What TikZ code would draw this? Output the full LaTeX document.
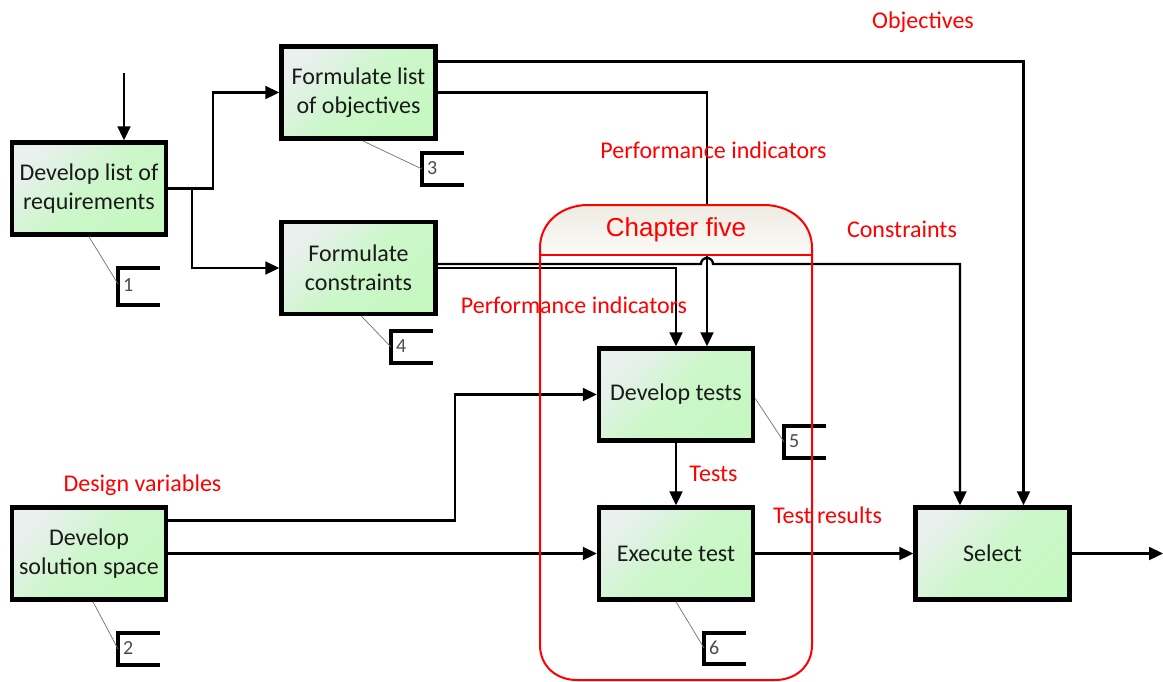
\documentclass[tikz,border=0pt]{standalone}
\usepackage{fontspec}
\setmainfont{Carlito}
\newfontfamily\headfont{Liberation Sans}
\usetikzlibrary{arrows.meta}

\definecolor{boxlight}{HTML}{E9F0EE}
\definecolor{boxgreen}{HTML}{C6F8C2}
\definecolor{headtop}{HTML}{EEEBE2}
\definecolor{headbot}{HTML}{FBFBF8}
\definecolor{boxtext}{HTML}{1A1A1A}
\definecolor{tagtext}{HTML}{4A4A4A}
\definecolor{leadgray}{HTML}{707070}

\tikzset{
  stagebox/.style={draw=black, line width=4.5pt, top color=boxlight, bottom color=boxgreen,
    middle color=boxgreen!82!boxlight, shading angle=45,
    minimum width=154pt, minimum height=92pt, align=center,
    text=boxtext, font=\fontsize{24}{29}\selectfont, inner sep=2pt},
  flow/.style={draw=black, line width=2.3pt, -{Triangle[length=14pt,width=13pt]}},
  tagline/.style={draw=black, line width=4.5pt},
  tagnum/.style={text=tagtext, font=\fontsize{20}{20}\selectfont, inner sep=1pt, anchor=west},
  leader/.style={draw=leadgray, line width=0.7pt},
  redlabel/.style={text=red, font=\fontsize{24}{24}\selectfont, inner sep=0pt},
  chapline/.style={draw=red, line width=2pt}
}

% bracket with a number: #1 name, #2 left x, #3 top y, #4 height, #5 number
\newcommand\tagmark[5]{%
  \draw[tagline] (#2+42,#3) -- (#2,#3) -- (#2,#3+#4) -- (#2+42,#3+#4);
  \node[tagnum] (#1) at (#2+4,#3+#4/2-1) {#5};
}

\begin{document}
\begin{tikzpicture}[x=1pt,y=-1pt]
\useasboundingbox (0,0) rectangle (1163,681);

% activity boxes
\node[stagebox] (req) at (89,188.5) {Develop list of\\requirements};
\node[stagebox] (obj) at (358.5,92.5) {Formulate list\\of objectives};
\node[stagebox] (con) at (358.5,268) {Formulate\\constraints};
\node[stagebox] (sol) at (89,553.5) {Develop\\solution space};
\node[stagebox] (dev) at (676,394.5) {Develop tests};
\node[stagebox] (exe) at (676,553.5) {Execute test};
\node[stagebox] (sel) at (992.5,553.5) {Select};

% input and output ends
\coordinate (in) at (124,73);
\coordinate (out) at (1163,553.5);

% connectors
\draw[flow] (in) -- (in |- req.north);
\draw[flow] (req.east) -- (213,188.5) |- (obj.west);
\draw[flow] (192,188.5) |- (con.west);
\draw[flow] ([yshift=31pt]obj.east) -| ([xshift=31pt]sel.north);
\draw[flow] (obj.east) -| ([xshift=31pt]dev.north);
\draw[flow] ([yshift=4pt]con.east) -- (701,264) arc[start angle=180,end angle=360,radius=6]
            -- (960,264) -- ([xshift=-32.5pt]sel.north);
\draw[flow] (con.east) -| (dev.north);
\draw[flow] ([yshift=33pt]sol.east) -- (455,520.5) |- (dev.west);
\draw[flow] (sol.east) -- (exe.west);
\draw[flow] (dev.south) -- (exe.north);
\draw[flow] (exe.east) -- (sel.west);
\draw[flow] (sel.east) -- (out);

% numbered brackets and their leaders
\tagmark{t1}{118}{268}{37}{1}
\tagmark{t3}{422}{153}{32}{3}
\tagmark{t4}{391}{331}{32}{4}
\tagmark{t5}{784}{426}{32}{5}
\tagmark{t6}{704}{633}{31}{6}
\tagmark{t2}{118}{633}{32}{2}
\draw[leader] (req.south) -- (118,284);
\draw[leader] ([xshift=4pt]obj.south) -- (422,169);
\draw[leader] ([xshift=3pt]con.south) -- (391,347);
\draw[leader] ([yshift=-4pt]dev.east) -- (784,442);
\draw[leader] (exe.south) -- (704,648);
\draw[leader] ([xshift=4pt]sol.south) -- (118,649);

% chapter frame
\shade[top color=headtop, bottom color=headbot]
  (540,255) -- (540,248) .. controls (540,222) and (562,205) .. (588,205)
  -- (764,205) .. controls (790,205) and (812,222) .. (812,248) -- (812,255) -- cycle;
\draw[chapline]
  (540,255) -- (540,248) .. controls (540,222) and (562,205) .. (588,205)
  -- (764,205) .. controls (790,205) and (812,222) .. (812,248) -- (812,255);
\draw[chapline] (540,255) -- (812,255);
\draw[chapline] (540,255) -- (540,645) .. controls (540,666) and (556,680) .. (577,680)
  -- (775,680) .. controls (796,680) and (812,666) .. (812,645) -- (812,255);
\node[text=red, font=\headfont\fontsize{26}{26}\selectfont, inner sep=0pt] (chap) at (676,230) {Chapter five};

% flow labels
\node[redlabel] (lobj) at (923,22) {Objectives};
\node[redlabel] (lpi1) at (713.5,150) {Performance indicators};
\node[redlabel] (lcon) at (902,229) {Constraints};
\node[redlabel] (lpi2) at (574,305) {Performance indicators};
\node[redlabel] (ldv) at (142.5,485) {Design variables};
\node[redlabel] (ltst) at (713.5,474) {Tests};
\node[redlabel] (ltr) at (827.5,515) {Test results};
\end{tikzpicture}
\end{document}
